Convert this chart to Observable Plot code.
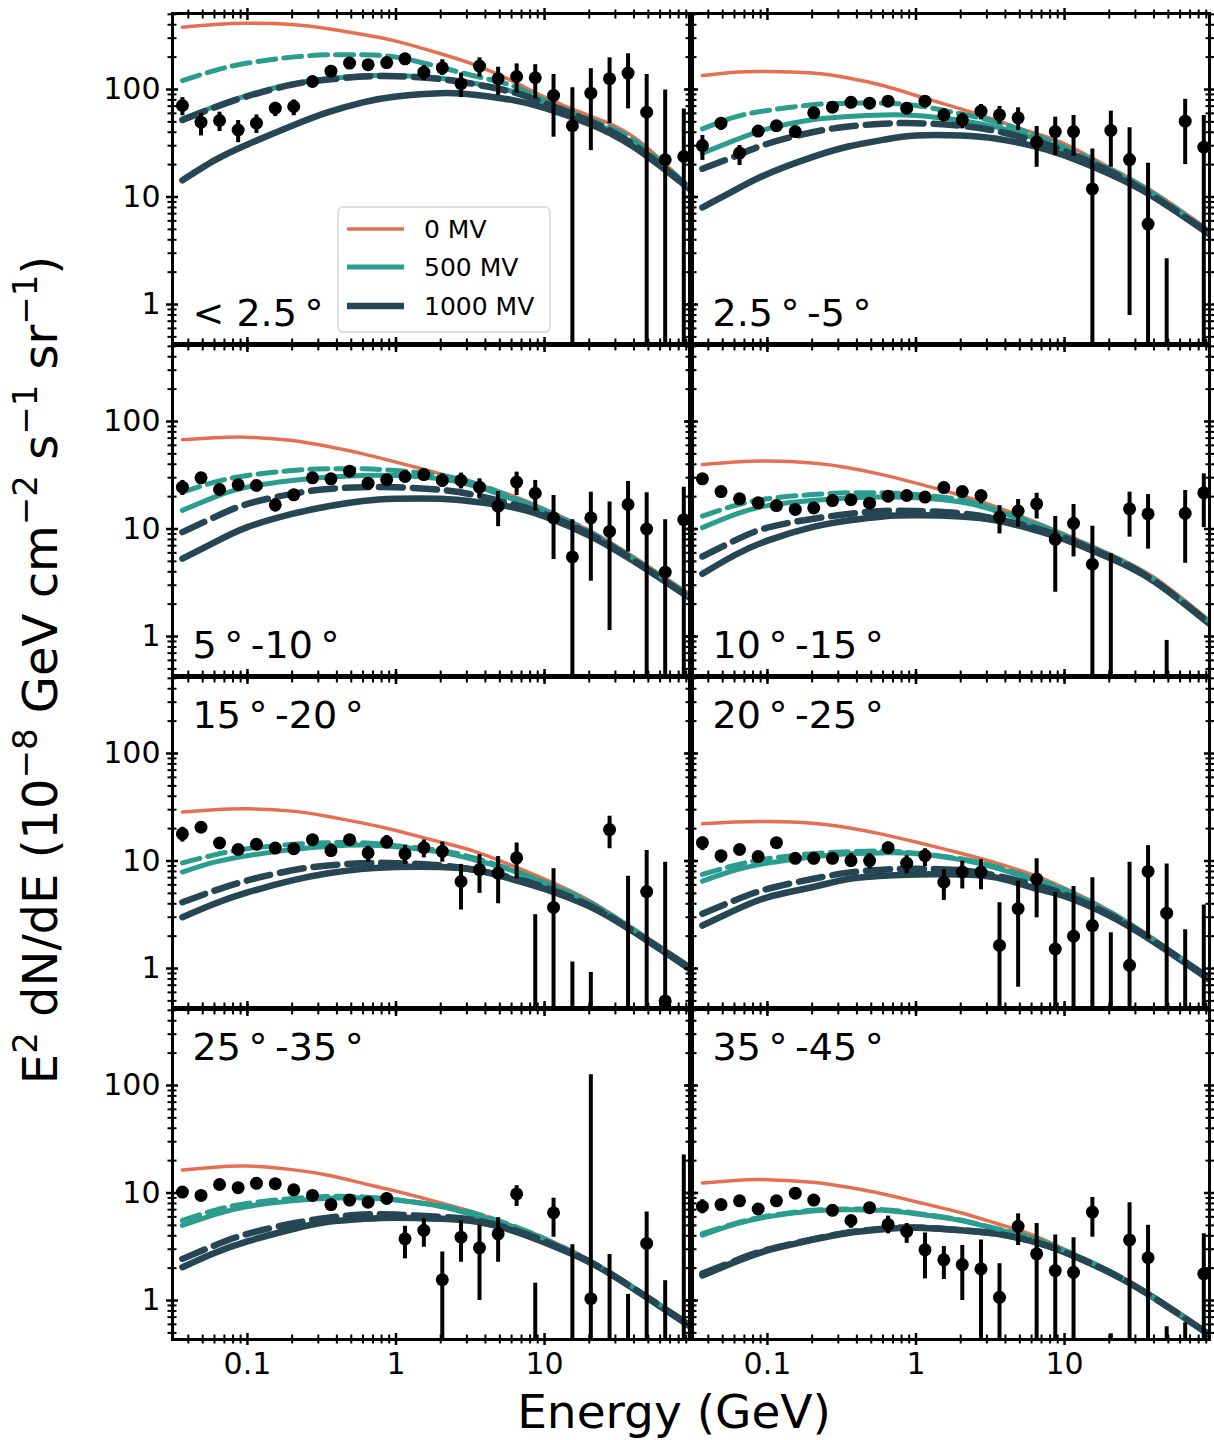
<!DOCTYPE html>
<html><head><meta charset="utf-8">
<script src="https://cdn.jsdelivr.net/npm/d3@7"></script>
<script src="https://cdn.jsdelivr.net/npm/@observablehq/plot@0.6"></script>
<style>
body{margin:0;background:#fff;}
#fig{position:relative;width:1214px;height:1440px;background:#fff;font-family:"DejaVu Sans";overflow:hidden;}
#fig > svg{position:absolute;overflow:visible;}
</style></head><body><div id="fig"></div>
<script>
// ---------- data ----------
const energies = [0.0365, 0.0487, 0.0649, 0.0866, 0.115, 0.154, 0.205, 0.274, 0.365, 0.487, 0.649, 0.866, 1.15, 1.54, 2.05, 2.74, 3.65, 4.87, 6.49, 8.66, 11.5, 15.4, 20.5, 27.4, 36.5, 48.7, 64.9, 86.6];
const modelE = [0.0365, 0.06, 0.1, 0.2, 0.35, 0.6, 1, 2, 3.5, 6, 10, 20, 40, 94.6];
const panelLabels = ["< 2.5\u2009°", "2.5\u2009°\u2009-5\u2009°", "5\u2009°\u2009-10\u2009°", "10\u2009°\u2009-15\u2009°", "15\u2009°\u2009-20\u2009°", "20\u2009°\u2009-25\u2009°", "25\u2009°\u2009-35\u2009°", "35\u2009°\u2009-45\u2009°"];
const legendLabels = ["0 MV", "500 MV", "1000 MV"];
const xMajor = [0.1, 1, 10];
const xMinor = [0.04, 0.05, 0.06, 0.07, 0.08, 0.09, 0.2, 0.3, 0.4, 0.5, 0.6, 0.7, 0.8, 0.9, 2, 3, 4, 5, 6, 7, 8, 9, 20, 30, 40, 50, 60, 70, 80, 90];
const yMajor = [1, 10, 100];
const yMinor = [0.5, 0.6, 0.7, 0.8, 0.9, 2, 3, 4, 5, 6, 7, 8, 9, 20, 30, 40, 50, 60, 70, 80, 90, 200, 300, 400, 500];

// data points (value, upper and lower end of the error bar; 0 = below the panel)
const p1_val = [71, 49.7, 51.5, 42, 48.6, 67, 69.5, 118.6, 148, 176, 170, 178, 193, 145, 159, 113, 165, 126, 132, 128.5, 88, 46, 92.5, 126, 142, 61.5, 22.2, 23.8];
const p1_hi  = [84, 60, 61.5, 51.5, 58, 76, 80, null, null, null, null, null, null, 167, 189, 142, 197, 161, 173, 170, 138, 104, 156, 197, 215, 138, 99, 66];
const p1_lo  = [57, 37, 40.6, 32, 39, 56, 57, null, null, null, null, null, null, 121, 135, 84, 130, 88, 92, 82, 36, 0, 27, 48, 66, 0, 0, 0];

const p2_val = [30.1, 48.6, 25.6, 41, 46, 40.6, 60.7, 68.5, 76, 74.6, 77.9, 67, 77.9, 58, 52.2, 62.9, 58, 54.5, 32.4, 40.6, 40.6, 11.9, 41.6, 22.3, 5.6, null, 50.7, 29.1];
const p2_hi  = [37.3, 53.4, 30.1, null, null, null, null, null, null, null, null, null, null, 66, 60.2, 72.5, 69.5, 67.6, 45.3, 55.3, 57.3, 28, 62.9, 44, 20.6, 2.66, 81, 57.3];
const p2_lo  = [21.9, 41.6, 19.6, null, null, null, null, null, null, null, null, null, null, 50.7, 43, 52.2, 47.2, 41.6, 18.9, 24.3, 23.8, 0, 18.9, 0.79, 0, 0, 20, 0];

const p3_val = [24.5, 29.9, 23.3, 25.8, 25.4, 16.8, 20.8, 29.9, 29.3, 34.5, 26.7, 28.7, 30.8, 32.1, 28.3, 28.3, 24.5, 16.3, 27.3, 21.5, 12.7, 5.5, 12.7, 9.5, 16.9, 10.0, 3.97, 12.2];
const p3_hi  = [28.3, null, null, null, null, 19.1, null, null, null, null, null, null, null, null, 32.6, 33.1, 29.3, 22.3, 33.8, 28.3, 20.5, 12.2, 22, 17.8, 27.7, 21.7, 12.2, 24.5];
const p3_lo  = [20.5, null, null, null, null, 14.4, null, null, null, null, null, null, null, null, 24.5, 23.6, 19.5, 10.5, 20.5, 14.7, 5.2, 0, 3.27, 1.14, 6.1, 0, 0, 0];

const p4_val = [29.3, 22.3, 19.1, 17.5, 16.5, 15.2, 15.7, 18.4, 18.7, 17.4, 20.2, 20.5, 19.8, 24.3, 22.3, 20.5, 12.9, 14.7, 17.1, 8.0, 11.3, 4.7, null, 15.4, 13.8, null, 14.0, 21.7];
const p4_hi  = [null, null, null, null, null, null, null, null, null, null, null, null, null, null, null, 22.8, 16.5, 18.8, 21.5, 13.1, 16.9, 10.6, 5.9, 22, 20.9, 0.92, 22.8, 32.6];
const p4_lo  = [null, null, null, null, null, null, null, null, null, null, null, null, null, null, null, 17.1, 9.0, 10.4, 12.4, 2.58, 5.5, 0, 0, 8.4, 6.5, 0, 4.8, 10.3];

const p5_val = [17.9, 20.6, 14.7, 12.8, 14.3, 13.2, 13.0, 15.8, 12.5, 15.8, 11.9, 15.0, 11.7, 13.3, 12.3, 6.45, 8.3, 7.7, 10.7, null, 3.7, null, null, 19.6, null, 5.2, 0.50, null];
const p5_hi  = [20.6, null, null, null, null, null, null, null, 14.4, null, 13.7, 17.3, 13.9, 15.7, 15.0, 9.3, 11.5, 11.0, 14.7, 3.16, 8.45, 1.15, 0.92, 26.1, 7.2, 12.5, 9.75, null];
const p5_lo  = [15.0, null, null, null, null, null, null, null, 10.9, null, 9.75, 13.0, 9.3, 10.7, 9.75, 3.5, 5.0, 4.0, 6.8, 0, 0, 0, 0, 13.0, 0, 0, 0, null];

const p6_val = [14.8, 11.2, 12.8, 11.0, 14.8, 10.6, 10.6, 10.6, 10.1, 10.1, 13.3, 9.55, 11.2, 6.35, 7.9, 7.9, 1.64, 3.6, 6.8, 1.52, 2.0, 2.51, null, 1.07, 8.0, 3.27, null, null];
const p6_hi  = [16.7, 12.5, null, null, null, null, null, null, 11.7, 11.7, 15.0, 11.2, 13.0, 8.3, 9.96, 10.3, 4.1, 6.5, 10.5, 5.1, 5.8, 7.0, 2.15, 9.75, 13.9, 9.4, 2.29, 3.9];
const p6_lo  = [12.5, 9.55, null, null, null, null, null, null, 8.8, 8.45, 11.7, 7.6, 8.9, 4.3, 5.5, 5.4, 0, 0.67, 2.96, 0, 0, 0, 0, 0, 1.89, 0, 0, 0];

const p7_val = [10.2, 9.5, 12.0, 11.2, 12.3, 12.2, 10.7, 9.5, 7.8, 8.6, 8.2, 8.9, 3.75, 4.5, 1.56, 3.88, 3.09, 4.17, 9.8, null, 6.55, null, 1.04, null, null, 3.4, null, null];
const p7_hi  = [null, null, null, null, null, null, null, null, null, null, null, null, 4.9, 5.75, 2.82, 5.5, 5.0, 5.9, 11.7, 1.45, 8.95, 3.3, 126, 2.68, 1.14, 6.65, 1.53, 22.6];
const p7_lo  = [null, null, null, null, null, null, null, null, null, null, null, null, 2.44, 3.13, 0, 2.27, 1.0, 2.27, 7.5, 0, 3.88, 0, 0, 0, 0, 0, 0, 0];

const p8_val = [7.5, 7.8, 8.45, 7.1, 8.45, 9.96, 8.6, 6.9, 5.55, 7.3, 5.1, 4.4, 2.96, 2.39, 2.16, 1.97, 1.07, 4.9, 2.72, 1.9, 1.83, 6.65, null, 3.66, 2.5, null, null, 1.77];
const p8_hi  = [8.65, null, null, null, null, null, null, null, 6.1, null, 6.1, 5.2, 4.25, 3.18, 3.25, 3.66, 2.2, 6.4, 5.2, 4.06, 3.83, 9.1, 0.49, 8.1, 5.0, 0.57, 0.62, 4.17];
const p8_lo  = [6.4, null, null, null, null, null, null, null, 4.7, null, 4.17, 3.4, 1.59, 1.57, 1.0, 0, 0, 3.25, 0, 0, 0, 3.88, 0, 0, 0, 0, 0, 0];

// model curves at modelE: 0 MV, 500 MV (solid, dashed), 1000 MV (solid, dashed)
const p1_m0 = [380, 403, 414, 403, 367, 325, 282, 215, 167, 121, 85, 57, 36, 12.3];
const p1_m500d = [121, 150, 176, 200, 210, 210, 200, 161, 132, 109, 79, 53, 33.6, 12.3];
const p1_m500 = [53.4, 69.5, 88, 113, 126, 134, 135, 127, 113, 96.6, 76, 51.5, 30.8, 12.1];
const p1_m1000d = [52, 68, 86.5, 111, 124, 132, 133, 125, 111, 95, 75, 51, 30.5, 12.0];
const p1_m1000 = [14.3, 21.9, 30.8, 46, 61.5, 76, 86, 92.5, 89, 80, 67.6, 48, 29.1, 11.9];

const p2_m0 = [135, 145, 147, 142, 128, 109, 88, 66, 51.5, 40, 31.3, 18.9, 11.1, 4.9];
const p2_m500d = [43, 55.3, 63.8, 72, 74.6, 74.6, 71, 59.4, 49.7, 38.7, 29.1, 18.3, 10.7, 4.7];
const p2_m500 = [25.6, 33.6, 43, 52.2, 56.1, 58, 57.3, 51.5, 44.6, 36, 27.5, 17.7, 10.3, 4.7];
const p2_m1000d = [18.3, 23.8, 31.3, 40, 45.3, 48, 48.6, 46, 41, 34, 26.7, 17.4, 10.1, 4.6];
const p2_m1000 = [8.0, 11.5, 16.4, 23.5, 29.5, 34, 37.3, 37.3, 34.8, 30.1, 24.3, 16.4, 9.96, 4.5];

const p3_m0 = [67.6, 70.5, 71.5, 66.6, 58.5, 50, 41.9, 32.6, 26.3, 20.5, 15.4, 9.7, 5.5, 2.5];
const p3_m500d = [22, 27.3, 31.5, 35, 36.3, 36.3, 35, 31.5, 26.3, 19.8, 14.9, 9.5, 5.3, 2.4];
const p3_m500 = [14.9, 19.8, 24.5, 28.3, 30.4, 31.5, 31.5, 29.3, 24.8, 19.1, 14.4, 9.2, 5.2, 2.35];
const p3_m1000d = [9.35, 12.9, 17.1, 21.2, 23.6, 24.5, 24.5, 23.1, 20.5, 17.1, 13.8, 9.0, 5.1, 2.3];
const p3_m1000 = [5.3, 7.5, 10.4, 13.8, 16.3, 18.2, 19.1, 19.1, 17.8, 16.0, 13.1, 8.7, 5.0, 2.3];

const p4_m0 = [39.8, 41.9, 42.8, 41, 37.1, 31.9, 26.7, 20.5, 16.0, 12.0, 9.0, 5.9, 3.56, 1.41];
const p4_m500d = [13.2, 16.5, 19.1, 20.9, 21.7, 21.7, 20.9, 18.7, 15.1, 11.6, 8.7, 5.75, 3.4, 1.36];
const p4_m500 = [10.3, 13.6, 16.5, 18.4, 19.4, 19.8, 19.5, 17.8, 14.7, 11.3, 8.5, 5.7, 3.35, 1.36];
const p4_m1000d = [5.55, 7.8, 10.3, 12.4, 13.8, 14.7, 14.7, 14.0, 12.4, 10.4, 8.3, 5.55, 3.3, 1.33];
const p4_m1000 = [3.83, 5.7, 7.8, 10.4, 12.0, 13.1, 13.4, 13.1, 12.0, 10.0, 8.0, 5.4, 3.27, 1.31];

const p5_m0 = [28.5, 29.9, 30.6, 29.1, 25.9, 22.5, 19.2, 15.0, 12.1, 9.1, 6.8, 4.3, 2.34, 1.07];
const p5_m500d = [9.6, 11.4, 13.0, 14.3, 14.8, 14.8, 13.9, 12.5, 10.5, 8.3, 6.35, 4.14, 2.29, 1.04];
const p5_m500 = [7.9, 9.75, 11.2, 12.8, 13.7, 14.1, 13.6, 12.1, 10.1, 8.2, 6.25, 4.1, 2.27, 1.03];
const p5_m1000d = [4.14, 5.3, 6.6, 8.2, 9.1, 9.55, 9.55, 9.1, 8.2, 7.0, 5.7, 3.86, 2.2, 1.02];
const p5_m1000 = [3.0, 4.0, 5.1, 6.6, 7.7, 8.45, 8.8, 8.8, 8.2, 6.8, 5.5, 3.78, 2.18, 0.99];

const p6_m0 = [22.2, 23.0, 23.3, 22.5, 20.4, 17.7, 15.0, 11.8, 9.55, 7.5, 5.6, 3.47, 1.89, 0.83];
const p6_m500d = [7.5, 9.1, 10.5, 11.7, 12.2, 12.4, 11.8, 10.5, 8.8, 7.0, 5.4, 3.37, 1.85, 0.82];
const p6_m500 = [6.5, 8.2, 9.55, 10.9, 11.7, 11.9, 11.7, 10.3, 8.6, 6.8, 5.3, 3.33, 1.82, 0.82];
const p6_m1000d = [3.23, 4.3, 5.5, 6.8, 7.8, 8.3, 8.45, 8.2, 7.3, 6.1, 4.9, 3.18, 1.8, 0.81];
const p6_m1000 = [2.51, 3.47, 4.6, 5.7, 6.8, 7.3, 7.5, 7.5, 7.0, 5.7, 4.7, 3.1, 1.76, 0.785];

const p7_m0 = [16.4, 17.4, 17.8, 16.5, 14.6, 12.3, 10.4, 8.1, 6.5, 5.0, 3.83, 2.39, 1.33, 0.61];
const p7_m500d = [5.55, 6.9, 8.0, 8.9, 9.3, 9.2, 8.65, 7.6, 6.4, 5.0, 3.75, 2.35, 1.31, 0.6];
const p7_m500 = [5.0, 6.3, 7.5, 8.45, 8.95, 9.0, 8.6, 7.5, 6.1, 4.9, 3.7, 2.32, 1.3, 0.6];
const p7_m1000d = [2.44, 3.25, 4.17, 5.2, 5.9, 6.3, 6.3, 6.0, 5.55, 4.6, 3.55, 2.3, 1.29, 0.59];
const p7_m1000 = [2.04, 2.77, 3.55, 4.6, 5.4, 5.75, 5.9, 5.75, 5.4, 4.5, 3.47, 2.28, 1.28, 0.58];

const p8_m0 = [12.4, 13.1, 13.3, 12.6, 11.3, 9.8, 8.3, 6.55, 5.2, 4.1, 3.0, 1.9, 1.07, 0.49];
const p8_m500d = [4.2, 5.2, 6.1, 6.9, 7.1, 7.0, 6.5, 5.6, 4.65, 3.85, 2.92, 1.88, 1.06, 0.49];
const p8_m500 = [4.06, 5.1, 6.0, 6.8, 7.0, 6.9, 6.4, 5.55, 4.6, 3.83, 2.9, 1.87, 1.06, 0.49];
const p8_m1000d = [1.78, 2.33, 2.97, 3.7, 4.3, 4.65, 4.78, 4.52, 4.18, 3.58, 2.83, 1.84, 1.06, 0.48];
const p8_m1000 = [1.71, 2.27, 2.92, 3.66, 4.25, 4.6, 4.75, 4.5, 4.17, 3.57, 2.82, 1.83, 1.06, 0.48];

// ---------- assembly ----------
const vals = [p1_val, p2_val, p3_val, p4_val, p5_val, p6_val, p7_val, p8_val];
const his = [p1_hi, p2_hi, p3_hi, p4_hi, p5_hi, p6_hi, p7_hi, p8_hi];
const los = [p1_lo, p2_lo, p3_lo, p4_lo, p5_lo, p6_lo, p7_lo, p8_lo];
const m0 = [p1_m0, p2_m0, p3_m0, p4_m0, p5_m0, p6_m0, p7_m0, p8_m0];
const m500 = [p1_m500, p2_m500, p3_m500, p4_m500, p5_m500, p6_m500, p7_m500, p8_m500];
const m500d = [p1_m500d, p2_m500d, p3_m500d, p4_m500d, p5_m500d, p6_m500d, p7_m500d, p8_m500d];
const m1000 = [p1_m1000, p2_m1000, p3_m1000, p4_m1000, p5_m1000, p6_m1000, p7_m1000, p8_m1000];
const m1000d = [p1_m1000d, p2_m1000d, p3_m1000d, p4_m1000d, p5_m1000d, p6_m1000d, p7_m1000d, p8_m1000d];

const COL = {c0: "#e76f51", c500: "#2a9d8f", c1000: "#264653"};
const LW = {c0: 3.5, c500: 5, c1000: 6.5};
const X_DOMAIN = [0.0313, 94.6], Y_DOMAIN = [0.434, 509];
const W = 517, H = 330, ML = 80, MR = 20, MT = 20, MB = 60;
const colLeft = [172, 692], rowTop = [13, 345, 677, 1009];
const FONT = "DejaVu Sans";
const fig = document.getElementById("fig");

function curveData(arr) { return modelE.map((E, k) => ({E, y: arr[k]})); }

for (let i = 0; i < 8; i++) {
  const col = i % 2, row = Math.floor(i / 2);
  const pts = energies.map((E, k) => ({E, v: vals[i][k], hi: his[i][k], lo: los[i][k]}));
  const bars = pts.filter(d => d.hi != null).map(d => ({E: d.E, hi: d.hi, lo: d.lo > 0 ? d.lo : Y_DOMAIN[0] / 3}));
  const dots = pts.filter(d => d.v != null);
  const topLabel = row >= 2;
  const lineOpts = (stroke, w, dash) => ({x: "E", y: "y", stroke, strokeWidth: w, strokeDasharray: dash, curve: "natural", clip: true});
  const marks = [
    Plot.line(curveData(m0[i]), lineOpts(COL.c0, LW.c0, null)),
    Plot.line(curveData(m500[i]), lineOpts(COL.c500, LW.c500, null)),
    Plot.line(curveData(m1000[i]), lineOpts(COL.c1000, LW.c1000, null)),
    Plot.line(curveData(m500d[i]), lineOpts(COL.c500, LW.c500, "18,8")),
    Plot.line(curveData(m1000d[i]), lineOpts(COL.c1000, LW.c1000, "24,10")),
    Plot.ruleX(bars, {x: "E", y1: "lo", y2: "hi", stroke: "black", strokeWidth: 4, clip: true}),
    Plot.dot(dots, {x: "E", y: "v", r: 6.5, fill: "black", stroke: "none"}),
    Plot.frame({stroke: "black", strokeWidth: 3}),
    // major ticks (in and out) on all four sides
    Plot.axisX(xMajor, {anchor: "bottom", tickSize: 12, dy: -6, fill: null, strokeWidth: 2.5}),
    Plot.axisX(xMajor, {anchor: "top", tickSize: 12, dy: 6, fill: null, strokeWidth: 2.5}),
    Plot.axisY(yMajor, {anchor: "left", tickSize: 12, dx: 6, fill: null, strokeWidth: 2.5}),
    Plot.axisY(yMajor, {anchor: "right", tickSize: 12, dx: -6, fill: null, strokeWidth: 2.5}),
    // minor ticks
    Plot.axisX(xMinor, {anchor: "bottom", tickSize: 9, dy: -4.5, fill: null, strokeWidth: 2}),
    Plot.axisX(xMinor, {anchor: "top", tickSize: 9, dy: 4.5, fill: null, strokeWidth: 2}),
    Plot.axisY(yMinor, {anchor: "left", tickSize: 9, dx: 4.5, fill: null, strokeWidth: 2}),
    Plot.axisY(yMinor, {anchor: "right", tickSize: 9, dx: -4.5, fill: null, strokeWidth: 2}),
    Plot.text([panelLabels[i]], {
      text: d => d,
      frameAnchor: topLabel ? "top-left" : "bottom-left",
      lineAnchor: topLabel ? "top" : "bottom",
      textAnchor: "start",
      dx: 20, dy: topLabel ? 24 : -18,
      fontSize: 38, fill: "black"
    })
  ];
  if (row === 3) marks.push(Plot.axisX(xMajor, {anchor: "bottom", tickSize: 0, tickPadding: 13, tickFormat: d => String(d), fontSize: 30}));
  if (col === 0) marks.push(Plot.axisY(yMajor, {anchor: "left", tickSize: 0, tickPadding: 12, tickFormat: d => String(d), fontSize: 30}));

  const svg = Plot.plot({
    width: ML + W + MR, height: MT + H + MB,
    marginLeft: ML, marginRight: MR, marginTop: MT, marginBottom: MB,
    x: {type: "log", domain: X_DOMAIN, label: null},
    y: {type: "log", domain: Y_DOMAIN, label: null},
    style: {fontFamily: FONT, fontSize: "30px", color: "black", background: "transparent", overflow: "visible"},
    marks
  });
  svg.style.left = (colLeft[col] - ML) + "px";
  svg.style.top = (rowTop[row] - MT) + "px";
  fig.appendChild(svg);
}

// ---------- overlay: axis titles and legend ----------
const ov = d3.create("svg").attr("width", 1214).attr("height", 1440)
  .style("left", "0px").style("top", "0px").style("pointer-events", "none")
  .attr("font-family", FONT).attr("fill", "black");

ov.append("text").attr("x", 674).attr("y", 1428).attr("text-anchor", "middle")
  .attr("font-size", 47).text("Energy (GeV)");

const yParts = [["E", 0], ["2", 1], [" dN/dE (10", 0], ["\u22128", 1], [" GeV cm", 0], ["\u22122", 1], [" s", 0], ["\u22121", 1], [" sr", 0], ["\u22121", 1], [")", 0]];
const yl = ov.append("text").attr("transform", "translate(57,670) rotate(-90)")
  .attr("text-anchor", "middle").attr("font-size", 48);
let prevSup = 0;
for (const [t, sup] of yParts) {
  const ts = yl.append("tspan").text(t);
  if (sup && !prevSup) ts.attr("dy", -20).attr("font-size", 34);
  else if (!sup && prevSup) ts.attr("dy", 20);
  prevSup = sup;
}

const lg = ov.append("g");
lg.append("rect").attr("x", 338).attr("y", 207).attr("width", 212).attr("height", 125)
  .attr("rx", 5).attr("fill", "white").attr("fill-opacity", 0.85).attr("stroke", "#d6d6d6").attr("stroke-width", 1.5);
const lgCols = [COL.c0, COL.c500, COL.c1000], lgW = [LW.c0, LW.c500, LW.c1000], lgY = [229, 267, 306];
legendLabels.forEach((t, j) => {
  lg.append("line").attr("x1", 347).attr("x2", 404).attr("y1", lgY[j]).attr("y2", lgY[j])
    .attr("stroke", lgCols[j]).attr("stroke-width", lgW[j]);
  lg.append("text").attr("x", 424).attr("y", lgY[j] + 9).attr("font-size", 25).text(t);
});

fig.appendChild(ov.node());
</script>
</body></html>
